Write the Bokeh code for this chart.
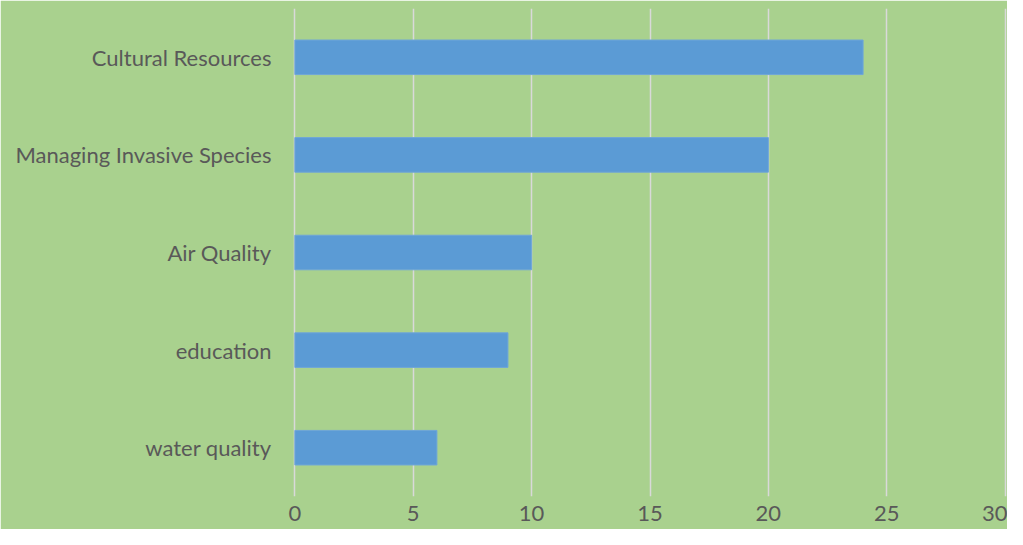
from bokeh.plotting import figure
from bokeh.models import FactorRange, Range1d, ColumnDataSource, FixedTicker
from bokeh.embed import file_html
from bokeh.resources import INLINE

# data (bottom to top)
categories = ["water quality", "education", "Air Quality", "Managing Invasive Species", "Cultural Resources"]
values = [6, 9, 10, 20, 24]
x_ticks = [0, 5, 10, 15, 20, 25, 30]

BG = "#A9D18E"
src = ColumnDataSource(dict(cat=categories, val=values))

p = figure(width=1007, height=529, output_backend="svg", toolbar_location=None,
           y_range=FactorRange(factors=categories, range_padding=0),
           x_range=Range1d(-0.1, 30.1),
           min_border_left=292, min_border_right=0, min_border_top=8, min_border_bottom=33)

p.hbar(y="cat", right="val", left=0, height=0.354, source=src,
       fill_color="#5B9BD5", line_color="#6FA6D8", line_width=1)

p.background_fill_color = BG
p.border_fill_color = BG
p.outline_line_color = BG
p.outline_line_width = 2

p.xaxis.ticker = FixedTicker(ticks=x_ticks)
p.xgrid.ticker = FixedTicker(ticks=x_ticks)
p.xgrid.grid_line_color = "#D9D9D9"
p.xgrid.grid_line_width = 1.5
p.ygrid.grid_line_color = None

for ax in (p.xaxis, p.yaxis):
    ax.axis_line_color = None
    ax.major_tick_line_color = None
    ax.minor_tick_line_color = None
    ax.major_tick_out = 0
    ax.major_tick_in = 0
    ax.major_label_text_font = "Lato"
    ax.major_label_text_font_size = "22px"
    ax.major_label_text_color = "#595959"

p.xaxis.major_label_standoff = 9
p.yaxis.major_label_standoff = 21

open("out.html", "w").write(file_html(p, INLINE))
